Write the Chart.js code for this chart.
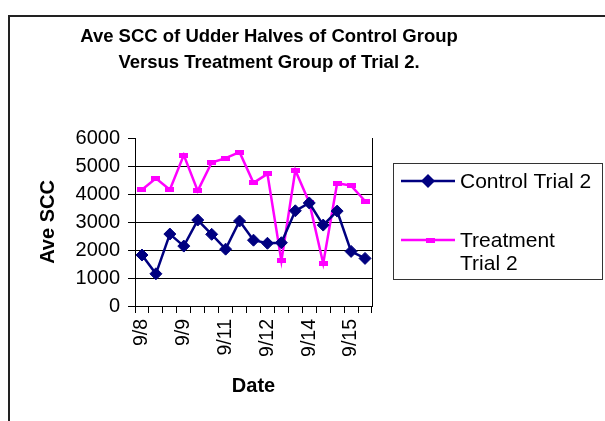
<!DOCTYPE html>
<html>
<head>
<meta charset="utf-8">
<script src="https://cdn.jsdelivr.net/npm/chart.js@4"></script>
<style>
  body { margin: 0; background: #fff; }
  #wrap { position: relative; width: 605px; height: 421px; overflow: hidden; }
  #frame { position: absolute; left: 8px; top: 15px; width: 700px; height: 500px; border: 2px solid #222; }
  #chart { position: absolute; left: 0; top: 0; }
</style>
</head>
<body>
<div id="wrap">
  <div id="frame"></div>
  <canvas id="chart" width="605" height="421"></canvas>
</div>
<script>
const titleLines = ["Ave SCC of Udder Halves of Control Group", "Versus Treatment Group of Trial 2."];
const dates = ["9/8", "9/8", "9/8", "9/9", "9/9", "9/10", "9/11", "9/11", "9/11", "9/12", "9/12", "9/13", "9/14", "9/14", "9/14", "9/15", "9/15"];
const controlTrial2 = [1820, 1150, 2570, 2140, 3070, 2560, 2030, 3035, 2350, 2240, 2260, 3400, 3680, 2890, 3390, 1950, 1700];
const treatmentTrial2 = [4150, 4560, 4150, 5390, 4110, 5125, 5280, 5495, 4400, 4720, 1610, 4850, 3700, 1520, 4385, 4300, 3750];
const seriesNames = [["Control Trial 2"], ["Treatment", "Trial 2"]];

const FONT = "'Liberation Sans', Arial, sans-serif";

// flat magenta marker, wider than tall
const dashMarker = document.createElement("canvas");
dashMarker.width = 9;
dashMarker.height = 5;
(function () {
    const c = dashMarker.getContext("2d");
    c.fillStyle = "#ff00ff";
    c.fillRect(0, 0, 9, 5);
})();

const sideLegend = {
    id: "sideLegend",
    afterDraw(chart) {
        const ctx = chart.ctx;
        const { top, bottom, right } = chart.chartArea;
        ctx.save();

        // right edge of the plot area
        ctx.strokeStyle = "#000";
        ctx.lineWidth = 1;
        ctx.beginPath();
        ctx.moveTo(Math.round(right) + 0.5, top);
        ctx.lineTo(Math.round(right) + 0.5, bottom);
        ctx.stroke();

        // title
        ctx.fillStyle = "#000";
        ctx.font = "bold 18.5px " + FONT;
        ctx.textAlign = "center";
        ctx.textBaseline = "middle";
        titleLines.forEach((t, i) => ctx.fillText(t, 269, 37 + i * 26));

        // legend box
        ctx.strokeStyle = "#333";
        ctx.lineWidth = 1;
        ctx.strokeRect(393.5, 163.5, 209, 116);

        ctx.font = "21px " + FONT;
        ctx.textAlign = "left";
        const ds = chart.data.datasets;
        const rows = [181, 240];
        ds.forEach((d, i) => {
            const y = rows[i];
            ctx.strokeStyle = d.borderColor;
            ctx.lineWidth = 2.5;
            ctx.beginPath();
            ctx.moveTo(401, y);
            ctx.lineTo(455, y);
            ctx.stroke();
            if (i === 0) {
                ctx.fillStyle = d.pointBackgroundColor;
                ctx.beginPath();
                ctx.moveTo(421, y);
                ctx.lineTo(428, y - 7);
                ctx.lineTo(435, y);
                ctx.lineTo(428, y + 7);
                ctx.closePath();
                ctx.fill();
            } else {
                ctx.drawImage(dashMarker, 426, y - 2.5);
            }
            ctx.fillStyle = "#000";
            seriesNames[i].forEach((s, k) => ctx.fillText(s, 460, y + 1 + k * 23.5));
        });
        ctx.restore();
    },
};

new Chart(document.getElementById("chart"), {
    type: "line",
    data: {
        labels: dates,
        datasets: [
            {
                label: "Control Trial 2",
                data: controlTrial2,
                borderColor: "#000080",
                backgroundColor: "#000080",
                pointBackgroundColor: "#000080",
                pointBorderColor: "#000080",
                borderWidth: 2.5,
                pointStyle: "rectRot",
                pointRadius: 6,
                pointBorderWidth: 1,
                tension: 0,
            },
            {
                label: "Treatment Trial 2",
                data: treatmentTrial2,
                borderColor: "#ff00ff",
                backgroundColor: "#ff00ff",
                pointBackgroundColor: "#ff00ff",
                borderWidth: 2.5,
                pointStyle: dashMarker,
                pointRadius: 5,
                tension: 0,
            },
        ],
    },
    options: {
        responsive: false,
        animation: false,
        events: [],
        layout: { padding: { left: 0, top: 138, right: 233, bottom: 0 } },
        plugins: {
            legend: { display: false },
            title: { display: false },
            tooltip: { enabled: false },
        },
        scales: {
            x: {
                offset: true,
                afterFit(scale) { scale.height = 115; },
                grid: {
                    offset: true,
                    drawOnChartArea: false,
                    color: "#000",
                    tickLength: 7,
                },
                border: { color: "#000", width: 1 },
                ticks: {
                    autoSkip: false,
                    minRotation: 90,
                    maxRotation: 90,
                    padding: 6,
                    color: "#000",
                    font: { family: FONT, size: 19.5 },
                    callback: function (value, index) {
                        return index % 3 === 0 ? this.getLabelForValue(value) : "";
                    },
                },
                title: {
                    display: true,
                    text: "Date",
                    color: "#000",
                    font: { family: FONT, size: 20, weight: "bold" },
                    padding: { top: 0, bottom: 23 },
                },
            },
            y: {
                min: 0,
                max: 6000,
                afterFit(scale) { scale.width = 135; },
                grid: {
                    color: (ctx) => (ctx.tick && ctx.tick.value === 6000 ? "rgba(0,0,0,0)" : "#000"),
                    tickColor: "#000",
                    borderDash: [8, 4],
                    tickBorderDash: [],
                    tickLength: 7,
                    lineWidth: 1,
                },
                border: { color: "#000", width: 1, dash: [] },
                ticks: {
                    stepSize: 1000,
                    padding: 8,
                    color: "#000",
                    font: { family: FONT, size: 20 },
                    callback: (v) => String(v),
                },
                title: {
                    display: true,
                    text: "Ave SCC",
                    color: "#000",
                    font: { family: FONT, size: 20, weight: "bold" },
                    padding: { top: 36, bottom: 0 },
                },
            },
        },
    },
    plugins: [sideLegend],
});
</script>
</body>
</html>
